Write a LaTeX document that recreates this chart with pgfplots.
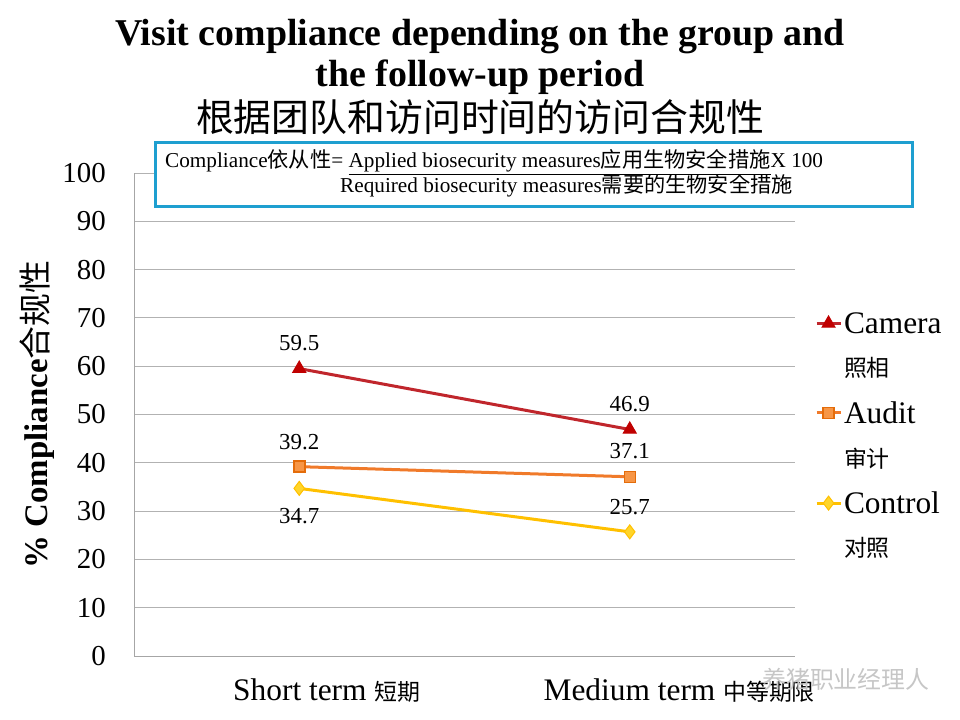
\documentclass[border=0pt]{standalone}
\usepackage{pgfplots}
\pgfplotsset{compat=1.18}
\usepackage{fontspec}
\setmainfont{Liberation Serif}
\newfontfamily\cjk{Noto Sans CJK SC}
\definecolor{camera}{HTML}{C0262C}
\definecolor{camerafill}{HTML}{C00000}
\definecolor{audit}{HTML}{F07A2A}
\definecolor{auditdraw}{HTML}{E46C0A}
\definecolor{auditfill}{HTML}{F79646}
\definecolor{control}{HTML}{FFC000}
\definecolor{controlfill}{HTML}{FFD52A}
\definecolor{boxcol}{HTML}{1E9FD0}
\begin{document}
\begin{tikzpicture}
\path[use as bounding box] (0,0) rectangle (960bp,720bp);
\begin{axis}[
  at={(134bp,64bp)}, anchor=south west, scale only axis,
  width=661bp, height=483bp,
  xmin=-0.5, xmax=1.5, ymin=0, ymax=100,
  ytick={0,10,...,100}, xtick={0,1},
  xticklabels={{\hspace*{55bp}Short term {\cjk\fontsize{23}{23}\selectfont 短期}},
               {\hspace*{99bp}Medium term {\cjk\fontsize{23}{23}\selectfont 中等期限}}},
  axis x line*=bottom, axis y line*=left,
  axis line style={gray!70, line width=1bp, -},
  ymajorgrids, grid style={gray!60, line width=0.8bp},
  major tick length=0pt,
  /pgf/number format/assume math mode=true,
  yticklabel style={font=\fontsize{29}{29}\selectfont, inner sep=0pt, anchor=east, xshift=-28bp},
  xticklabel style={font=\fontsize{31.5}{31.5}\selectfont, inner sep=0pt, anchor=base, yshift=-44bp},
  ylabel={\bfseries\% Compliance{\cjk\mdseries 合规性}},
  every axis y label/.style={at={(axis description cs:-0.147,0.5)}, rotate=90, anchor=center, font=\fontsize{33}{33}\selectfont},
  legend style={at={(axis description cs:1.03,0.716)}, anchor=north west, draw=none, fill=none,
    font=\fontsize{31.5}{32}\selectfont, row sep=19bp, inner sep=0pt},
  legend cell align=left,
  legend image code/.code={\draw[mark repeat=2,mark phase=2] plot coordinates {(0bp,0bp)(12bp,0bp)(24bp,0bp)};},
  clip=false,
]
\addplot[camera, line width=3bp, mark=triangle*, mark size=7.5bp, mark options={fill=camerafill, draw=camerafill, line width=1bp}] coordinates {(0,59.5)(1,46.9)};
\addlegendentry{Camera}
\addlegendimage{empty legend}
\addlegendentry{{\cjk\fontsize{23}{23}\selectfont 照相}}
\addplot[audit, line width=3bp, mark=square*, mark size=5.5bp, mark options={fill=auditfill, draw=auditdraw, line width=1.5bp}] coordinates {(0,39.2)(1,37.1)};
\addlegendentry{Audit}
\addlegendimage{empty legend}
\addlegendentry{{\cjk\fontsize{23}{23}\selectfont 审计}}
\addplot[control, line width=3bp, mark=diamond*, mark size=7bp, mark options={fill=controlfill, draw=control, line width=1bp}] coordinates {(0,34.7)(1,25.7)};
\addlegendentry{Control}
\addlegendimage{empty legend}
\addlegendentry{{\cjk\fontsize{23}{23}\selectfont 对照}}
\begin{scope}[every node/.style={font=\fontsize{23}{23}\selectfont}]
\node at (axis cs:0,59.5) [yshift=26bp] {59.5};
\node at (axis cs:1,46.9) [yshift=25bp] {46.9};
\node at (axis cs:0,39.2) [yshift=25bp] {39.2};
\node at (axis cs:1,37.1) [yshift=26bp] {37.1};
\node at (axis cs:0,34.7) [yshift=-28bp] {34.7};
\node at (axis cs:1,25.7) [yshift=25bp] {25.7};
\end{scope}
\end{axis}
% title
\node[anchor=base, font=\bfseries\fontsize{38}{38}\selectfont] at (480bp,674bp) {Visit compliance depending on the group and};
\node[anchor=base, font=\bfseries\fontsize{38}{38}\selectfont] at (480bp,633bp) {the follow-up period};
\node[anchor=base, font=\cjk\fontsize{38}{38}\selectfont] at (480bp,588bp) {根据团队和访问时间的访问合规性};
% formula box
\draw[boxcol, line width=3bp, fill=white] (155bp,513bp) rectangle (912bp,577bp);
\node[anchor=base west, inner sep=0pt, font=\fontsize{21.3}{21.3}\selectfont] at (165bp,552bp)
  {Compliance{\cjk 依从性}= \underline{Applied biosecurity measures{\cjk 应用生物安全措施}}X 100};
\node[anchor=base west, inner sep=0pt, font=\fontsize{21.3}{21.3}\selectfont] at (340bp,527bp)
  {Required biosecurity measures{\cjk 需要的生物安全措施}};
% watermark
\node[anchor=base west, inner sep=0pt, text=gray!45, font=\cjk\fontsize{24}{24}\selectfont] at (762bp,32bp) {养猪职业经理人};
\end{tikzpicture}
\end{document}
